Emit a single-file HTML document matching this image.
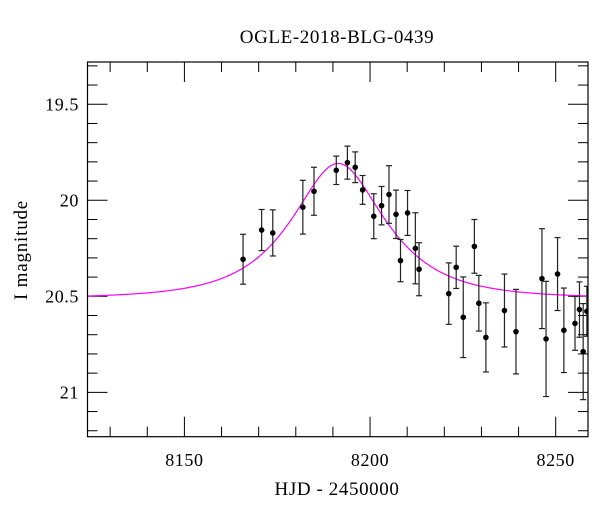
<!DOCTYPE html>
<html><head><meta charset="utf-8"><style>
html,body{margin:0;padding:0;background:#fff;}
svg text{font-family:"Liberation Serif",serif;fill:#000;}
</style></head><body>
<svg id="chart" width="600" height="512" viewBox="0 0 600 512" xmlns="http://www.w3.org/2000/svg">
<defs><clipPath id="plotclip"><rect x="87.5" y="62" width="500.5" height="374.7"/></clipPath></defs>
<text x="337" y="43" font-size="19" letter-spacing="0.6" text-anchor="middle">OGLE-2018-BLG-0439</text>
<text x="337" y="495" font-size="19" letter-spacing="0.6" text-anchor="middle">HJD - 2450000</text>
<text transform="translate(27,250) rotate(-90)" font-size="19" letter-spacing="0.8" text-anchor="middle">I magnitude</text>
<g id="axes"></g>
<g id="model" clip-path="url(#plotclip)"></g>
<g id="points" clip-path="url(#plotclip)"></g>
<rect x="87.5" y="62" width="500.5" height="374.7" fill="none" stroke="#000" stroke-width="1.2"/>
</svg>
<script>
const hjd = [8165.8,8170.8,8173.8,8181.9,8184.9,8190.9,8193.9,8196.0,8198.0,8201.0,8203.1,8205.1,8207.0,8208.2,8210.1,8212.2,8213.2,8221.2,8223.2,8225.1,8228.1,8229.3,8231.2,8236.2,8239.3,8246.3,8247.4,8250.5,8252.2,8255.2,8256.4,8257.4,8258.4];
const mag = [20.307,20.155,20.170,20.036,19.953,19.844,19.804,19.828,19.946,20.083,20.028,19.970,20.073,20.314,20.066,20.250,20.359,20.486,20.349,20.609,20.240,20.536,20.714,20.574,20.684,20.408,20.722,20.384,20.677,20.641,20.569,20.788,20.578];
const magErr = [0.13,0.107,0.12,0.14,0.125,0.074,0.086,0.08,0.075,0.117,0.1,0.15,0.126,0.11,0.117,0.185,0.138,0.16,0.11,0.21,0.14,0.145,0.18,0.19,0.22,0.26,0.30,0.19,0.22,0.14,0.144,0.25,0.13];
const xTickLabels = [8150,8200,8250];
const yTickLabels = [19.5,20,20.5,21];
const modelT0 = 8191.4, modelU0 = 0.59, modelTE = 20, modelBase = 20.51;

const X0=87.5, X1=588, Y0=62, Y1=436.7;
const xMin=8123.9, xMax=8258.7, yTop=19.28, yBot=21.231;
function xs(v){return X0+(v-xMin)/(xMax-xMin)*(X1-X0);}
function ys(v){return Y0+(v-yTop)/(yBot-yTop)*(Y1-Y0);}
const NS="http://www.w3.org/2000/svg";
function mk(tag,attrs,parent){const e=document.createElementNS(NS,tag);for(const k in attrs)e.setAttribute(k,attrs[k]);parent.appendChild(e);return e;}

const axes=document.getElementById('axes');
for(let d=8130; d<=8255; d+=10){
  const x=xs(d), major=(d%50===0), L=major?20:10;
  const t1=mk('line',{x1:x,y1:Y1,x2:x,y2:Y1-L,stroke:'#000','stroke-width':1},axes);
  
  
  const t2=mk('line',{x1:x,y1:Y0,x2:x,y2:Y0+L,stroke:'#000','stroke-width':1},axes);
  
  
}
xTickLabels.forEach(v=>{
  const t=mk('text',{x:xs(v),y:466,'font-size':18,'letter-spacing':0.6,'text-anchor':'middle'},axes);
  t.textContent=v;
  
  
});
for(let i=3;i<=22;i++){
  const m=19+i*0.1; const y=ys(m); if(y<Y0||y>Y1) continue;
  const major=(i%5===0), L=major?20:10;
  const t1=mk('line',{x1:X0,y1:y,x2:X0+L,y2:y,stroke:'#000','stroke-width':1},axes);
  
  
  const t2=mk('line',{x1:X1,y1:y,x2:X1-L,y2:y,stroke:'#000','stroke-width':1},axes);
  
  
}
yTickLabels.forEach(v=>{
  const t=mk('text',{x:79,y:ys(v)+6,'font-size':18,'letter-spacing':0.6,'text-anchor':'end'},axes);
  t.textContent=(v===20||v===21)?String(v):v.toFixed(1);
  
  
});

function modelMag(t){
  const tau=(t-modelT0)/modelTE, u=Math.sqrt(modelU0*modelU0+tau*tau);
  const A=(u*u+2)/(u*Math.sqrt(u*u+4));
  return modelBase-2.5*Math.log10(A);
}
let d='';
for(let t=xMin;t<=xMax;t+=0.25){d+=(d?'L':'M')+xs(t).toFixed(2)+','+ys(modelMag(t)).toFixed(2);}
const path=mk('path',{d:d,fill:'none',stroke:'#ff00ff','stroke-width':1.2},document.getElementById('model'));



const pg=document.getElementById('points');
hjd.forEach((t,i)=>{
  const x=xs(t), y=ys(mag[i]), yt=ys(mag[i]-magErr[i]), yb=ys(mag[i]+magErr[i]);
  const g=mk('g',{},pg);
  
  
  mk('line',{x1:x,y1:yt,x2:x,y2:yb,stroke:'#222','stroke-width':1.2},g);
  mk('line',{x1:x-3,y1:yt,x2:x+3,y2:yt,stroke:'#222','stroke-width':1.2},g);
  mk('line',{x1:x-3,y1:yb,x2:x+3,y2:yb,stroke:'#222','stroke-width':1.2},g);
  mk('circle',{cx:x,cy:y,r:2.8,fill:'#000'},g);
});
</script>
</body></html>
